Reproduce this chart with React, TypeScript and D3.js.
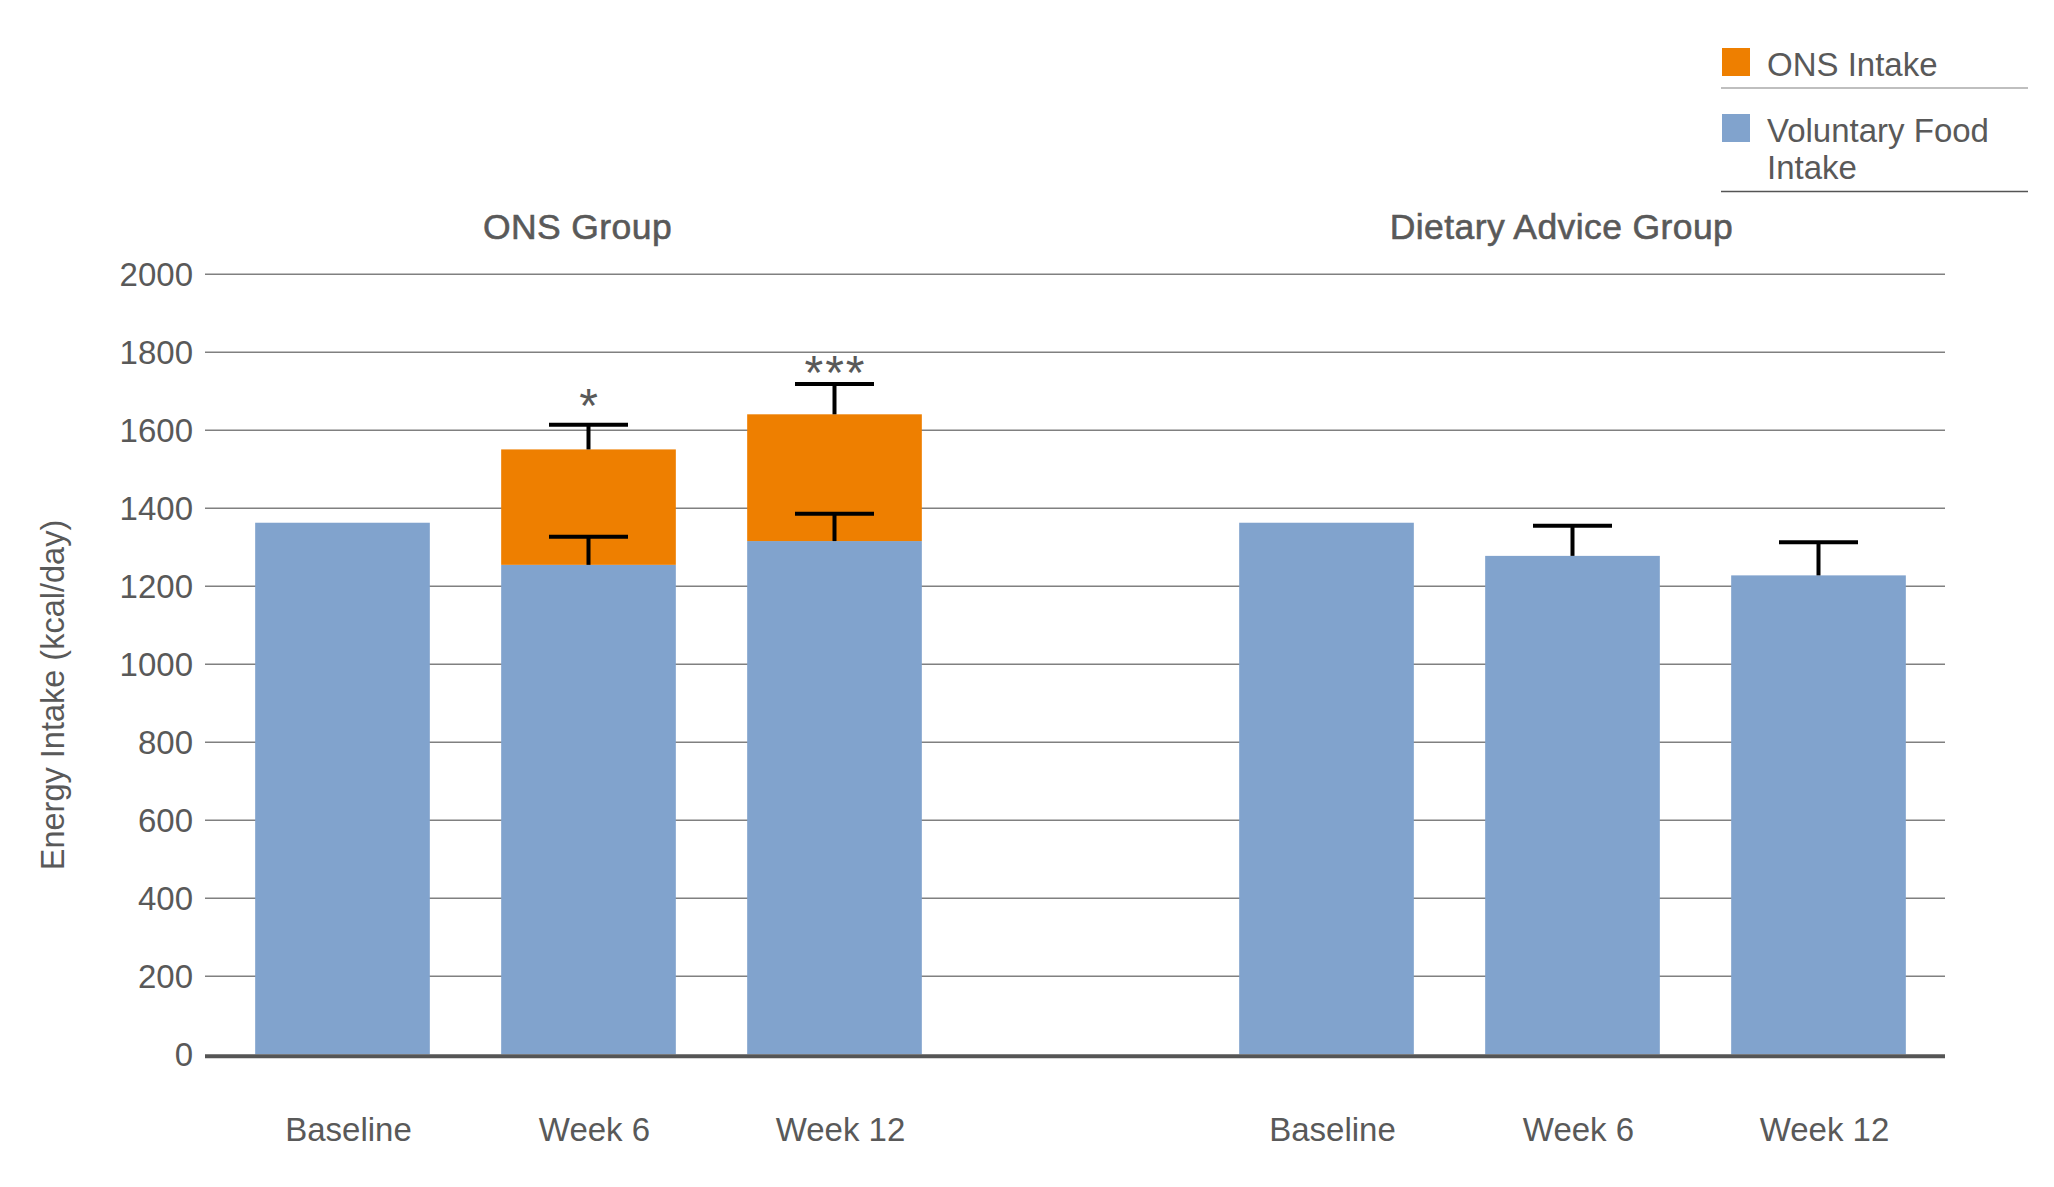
import * as d3 from "d3";

// x categories per group
const timepoints = ["Baseline", "Week 6", "Week 12"];
const groups = ["ONS Group", "Dietary Advice Group"];

// ONS group: voluntary food + ONS supplement on top (kcal/day)
const onsVoluntary = [1363, 1255, 1316];
const onsSupplement = [0, 296, 325];
const onsVoluntaryErr = [0, 72, 70];
const onsTotalErr = [0, 63, 78];
const onsSignificance = ["", "*", "***"];

// dietary advice group: voluntary food only
const daVoluntary = [1363, 1278, 1228];
const daVoluntaryErr = [0, 77, 85];

const yTicks = [0, 200, 400, 600, 800, 1000, 1200, 1400, 1600, 1800, 2000];

const legendItems = [
  { label: ["ONS Intake"], color: "#EE7F00" },
  { label: ["Voluntary Food", "Intake"], color: "#81A3CD" },
];

const BLUE = "#81A3CD";
const ORANGE = "#EE7F00";
const TEXT = "#595959";
const FONT = "'Liberation Sans', Arial, Helvetica, sans-serif";

export default function App() {
  const width = 2054;
  const height = 1187;

  // 7 slots: 3 ONS, one empty gap, 3 dietary advice
  const slots = [
    ...timepoints.map((t) => `ons-${t}`),
    "gap",
    ...timepoints.map((t) => `da-${t}`),
  ];
  const x = d3
    .scaleBand<string>()
    .domain(slots)
    .range([219.5, 1941.5])
    .paddingInner(0.29)
    .paddingOuter(0.145);
  const y = d3.scaleLinear().domain([0, 2000]).range([1054.3, 274.3]);

  const gridX0 = 205;
  const gridX1 = 1945;
  const bw = x.bandwidth();
  const capW = 79;

  const errorBar = (cx: number, base: number, err: number, key: string) => {
    if (!err) return null;
    return (
      <g key={key}>
        <line x1={cx} x2={cx} y1={y(base)} y2={y(base + err)} stroke="#000" strokeWidth={4} />
        <line
          x1={cx - capW / 2}
          x2={cx + capW / 2}
          y1={y(base + err)}
          y2={y(base + err)}
          stroke="#000"
          strokeWidth={4}
        />
      </g>
    );
  };

  const onsBars = timepoints.map((t, i) => {
    const k = `ons-${t}`;
    const x0 = x(k)!;
    const cx = x0 + bw / 2;
    const total = onsVoluntary[i] + onsSupplement[i];
    return (
      <g key={k}>
        <rect x={x0} y={y(onsVoluntary[i])} width={bw} height={y(0) - y(onsVoluntary[i])} fill={BLUE} />
        {onsSupplement[i] > 0 && (
          <rect x={x0} y={y(total)} width={bw} height={y(onsVoluntary[i]) - y(total)} fill={ORANGE} />
        )}
        {errorBar(cx, onsVoluntary[i], onsVoluntaryErr[i], "ve")}
        {errorBar(cx, total, onsTotalErr[i], "te")}
        {onsSignificance[i] && (
          <text
            x={cx + 1}
            y={y(total + onsTotalErr[i]) + (onsSignificance[i].length > 1 ? 5 : -3)}
            textAnchor="middle"
            fontSize={48}
            letterSpacing={2}
            fill={TEXT}
          >
            {onsSignificance[i]}
          </text>
        )}
      </g>
    );
  });

  const daBars = timepoints.map((t, i) => {
    const k = `da-${t}`;
    const x0 = x(k)!;
    const cx = x0 + bw / 2;
    return (
      <g key={k}>
        <rect x={x0} y={y(daVoluntary[i])} width={bw} height={y(0) - y(daVoluntary[i])} fill={BLUE} />
        {errorBar(cx, daVoluntary[i], daVoluntaryErr[i], "ve")}
      </g>
    );
  });

  const onsCenter = (x(`ons-${timepoints[0]}`)! + x(`ons-${timepoints[2]}`)! + bw) / 2;
  const daCenter = (x(`da-${timepoints[0]}`)! + x(`da-${timepoints[2]}`)! + bw) / 2;

  return (
    <svg
      width={width}
      height={height}
      style={{ position: "absolute", left: 0, top: 0, background: "#fff" }}
      fontFamily={FONT}
    >
      {/* gridlines and y tick labels */}
      {yTicks.map((v) => (
        <g key={v}>
          {v !== 0 && (
            <line x1={gridX0} x2={gridX1} y1={y(v)} y2={y(v)} stroke="#808080" strokeWidth={1.5} />
          )}
          <text x={193} y={y(v)} dy="0.36em" textAnchor="end" fontSize={33} fill={TEXT}>
            {v}
          </text>
        </g>
      ))}

      {onsBars}
      {daBars}

      {/* baseline axis */}
      <line x1={gridX0} x2={gridX1} y1={y(0) + 2} y2={y(0) + 2} stroke="#555" strokeWidth={4} />

      {/* x labels */}
      {slots
        .filter((s) => s !== "gap")
        .map((s) => (
          <text
            key={s}
            x={x(s)! + bw / 2 + 6}
            y={1140.5}
            textAnchor="middle"
            fontSize={33}
            fill={TEXT}
          >
            {s.replace(/^(ons|da)-/, "")}
          </text>
        ))}

      {/* group titles */}
      {[onsCenter, daCenter].map((cx, i) => (
        <text
          key={groups[i]}
          x={cx - 11}
          y={238.5}
          textAnchor="middle"
          fontSize={35.5}
          letterSpacing={0.4}
          fill={TEXT}
          stroke={TEXT}
          strokeWidth={0.6}
        >
          {groups[i]}
        </text>
      ))}

      {/* y axis title */}
      <text
        transform={`translate(63.5,695) rotate(-90)`}
        textAnchor="middle"
        fontSize={32.5}
        fill={TEXT}
      >
        Energy Intake (kcal/day)
      </text>

      {/* legend */}
      <g>
        <rect x={1722} y={48} width={28} height={28} fill={legendItems[0].color} />
        <text x={1767} y={76} fontSize={33} fill={TEXT}>
          {legendItems[0].label[0]}
        </text>
        <line x1={1721} x2={2028} y1={88} y2={88} stroke="#aaa" strokeWidth={1.5} />
        <rect x={1722} y={114} width={28} height={28} fill={legendItems[1].color} />
        {legendItems[1].label.map((l, i) => (
          <text key={l} x={1767} y={142 + i * 36.5} fontSize={33} fill={TEXT}>
            {l}
          </text>
        ))}
        <line x1={1721} x2={2028} y1={191.5} y2={191.5} stroke="#555" strokeWidth={1.5} />
      </g>
    </svg>
  );
}
